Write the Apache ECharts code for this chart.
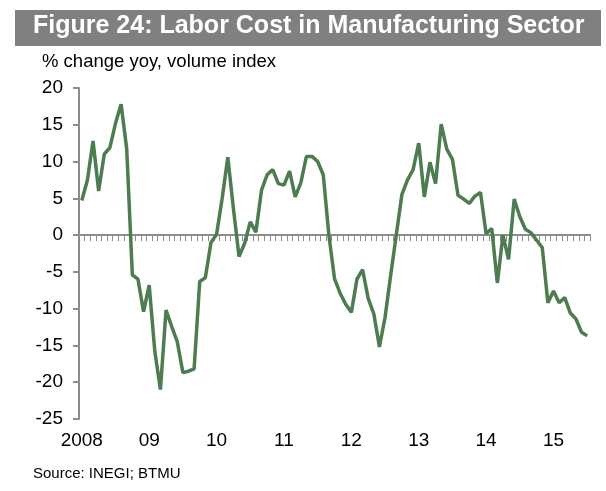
<!DOCTYPE html>
<html>
<head>
<meta charset="utf-8">
<script src="https://cdn.jsdelivr.net/npm/echarts@6/dist/echarts.min.js"></script>
<style>
  html, body { margin: 0; padding: 0; background: #fff; }
  #chart { width: 606px; height: 491px; }
</style>
</head>
<body>
<div id="chart"></div>
<script>
// Monthly observations starting January 2008
const startYear = 2008;
const laborCostYoY = [
  4.7, 7.5, 12.8, 6.0, 11.0, 11.9, 15.2, 17.8, 11.7, -5.4,
  -6.0, -10.4, -6.8, -15.8, -21.0, -10.2, -12.4, -14.5, -18.7, -18.5,
  -18.2, -6.3, -5.8, -1.0, 0.1, 5.0, 10.6, 3.6, -2.9, -1.1,
  1.8, 0.4, 6.1, 8.2, 8.9, 7.0, 6.8, 8.7, 5.2, 7.1,
  10.7, 10.7, 10.0, 8.2, 0.0, -5.9, -7.9, -9.4, -10.5, -6.0,
  -4.7, -8.6, -10.7, -15.2, -11.2, -5.5, 0.0, 5.5, 7.5, 8.9,
  12.5, 5.2, 9.9, 7.0, 15.1, 11.7, 10.3, 5.4, 4.9, 4.3,
  5.3, 5.8, 0.2, 0.9, -6.5, 0.0, -3.3, 4.9, 2.5, 0.8,
  0.3, -0.7, -1.7, -9.2, -7.6, -9.2, -8.5, -10.6, -11.4, -13.2,
  -13.7
];
const yearLabels = ['2008', '09', '10', '11', '12', '13', '14', '15'];
const yTicks = { min: -25, max: 20, step: 5 };

// Month categories (YYYY-MM)
const months = laborCostYoY.map((_, i) => {
  const y = startYear + Math.floor(i / 12);
  const m = (i % 12) + 1;
  return y + '-' + (m < 10 ? '0' + m : m);
});

const axisGray = '#8c8c8c';
const lineGreen = '#4c7c50';
const font = 'Arial, "Liberation Sans", sans-serif';

const chart = echarts.init(document.getElementById('chart'), null, { renderer: 'canvas' });
chart.setOption({
  animation: false,
  backgroundColor: '#ffffff',
  graphic: [
    { type: 'rect', left: 15, top: 10, shape: { width: 586, height: 36 }, style: { fill: '#808080' } },
    { type: 'text', left: 33, top: 14, style: { text: 'Figure 24: Labor Cost in Manufacturing Sector', fill: '#ffffff', font: 'bold 25px ' + font } },
    { type: 'text', left: 42, top: 52, style: { text: '% change yoy, volume index', fill: '#000000', font: '18.5px ' + font } },
    { type: 'text', left: 33, top: 466, style: { text: 'Source: INEGI; BTMU', fill: '#000000', font: '15px ' + font } }
  ],
  grid: { left: 79, right: 16, top: 88, bottom: 72, containLabel: false },
  xAxis: [
    {
      type: 'category',
      data: months,
      boundaryGap: true,
      axisLine: { onZero: true, lineStyle: { color: axisGray, width: 2 } },
      axisTick: { show: true, interval: 0, length: 6, lineStyle: { color: axisGray, width: 1 } },
      axisLabel: { show: false },
      splitLine: { show: false }
    },
    {
      type: 'category',
      data: months,
      position: 'bottom',
      boundaryGap: true,
      axisLine: { show: false, onZero: false },
      axisTick: { show: false },
      axisLabel: {
        interval: (i) => i % 12 === 0,
        formatter: (v, i) => yearLabels[Math.floor(i / 12)] || '',
        color: '#000', fontSize: 19, fontFamily: font, margin: 12
      },
      splitLine: { show: false }
    }
  ],
  yAxis: {
    type: 'value',
    min: yTicks.min, max: yTicks.max, interval: yTicks.step,
    axisLine: { show: true, lineStyle: { color: axisGray, width: 2 } },
    axisTick: { show: true, length: 6, lineStyle: { color: axisGray, width: 2 } },
    axisLabel: { color: '#000', fontSize: 19, fontFamily: font, margin: 16 },
    splitLine: { show: false }
  },
  series: [{
    type: 'line',
    data: laborCostYoY,
    xAxisIndex: 0,
    symbol: 'none',
    lineStyle: { color: lineGreen, width: 3.5 },
    z: 3
  }]
});
</script>
</body>
</html>
